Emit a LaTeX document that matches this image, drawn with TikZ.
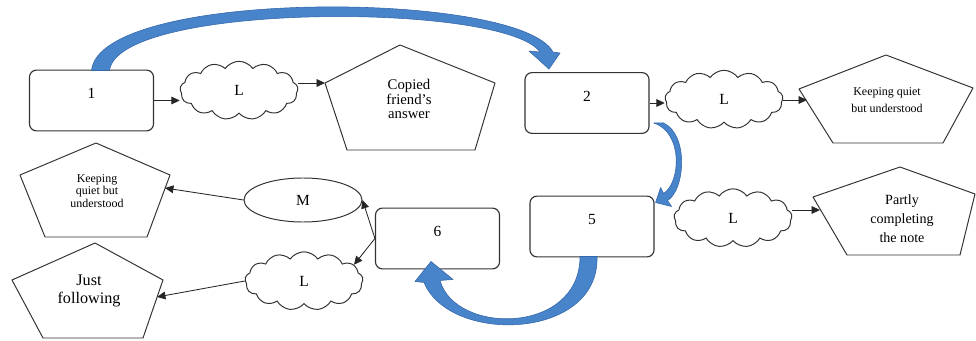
\documentclass[tikz,border=0pt]{standalone}
\usepackage{fontspec}
\setmainfont{Liberation Serif}
\usepackage{tikz}
\usetikzlibrary{shapes.symbols,shapes.geometric,arrows.meta,calc}

\definecolor{arcblue}{RGB}{72,132,202}
\definecolor{arcedge}{RGB}{52,102,170}

\tikzset{
    box/.style={rectangle, draw=black!80, rounded corners=5pt, line width=0.8pt,
        minimum width=3.1cm, minimum height=1.52cm, text depth=10pt,
        font=\fontsize{11}{13}\selectfont},
    puff/.style={cloud, draw=black!80, line width=0.7pt, cloud puffs=13,
        cloud puff arc=110, cloud ignores aspect, minimum width=2.95cm,
        minimum height=1.46cm, font=\fontsize{11}{13}\selectfont},
    oval/.style={ellipse, draw=black!80, line width=0.7pt, minimum width=2.95cm,
        minimum height=1.1cm, font=\fontsize{11}{13}\selectfont},
    penta/.style={draw=black!80, line width=0.7pt, line join=round},
    pentext/.style={align=center, inner sep=0pt},
    arr/.style={-{Triangle[length=6pt,width=5.5pt]}, line width=0.6pt, black!85},
    bluearc/.style={fill=arcblue, draw=arcedge, line width=0.4pt, line join=round}
}

\begin{document}
\begin{tikzpicture}[x=0.025cm, y=-0.025cm]
    \useasboundingbox (0,0) rectangle (976,341);

    % pentagons
    \draw[penta] (400,45) -- (495,83) -- (475,150) -- (347,150) -- (325,83) -- cycle;
    \draw[penta] (886,55) -- (973,88) -- (943,143) -- (833,143) -- (799,89) -- cycle;
    \draw[penta] (900,167) -- (975,194) -- (960,255) -- (847,255) -- (813,197) -- cycle;
    \draw[penta] (96,143) -- (170,175) -- (147,237) -- (45,237) -- (20,175) -- cycle;
    \draw[penta] (95,243) -- (163,280) -- (143,338) -- (43,338) -- (12,280) -- cycle;

    \node[pentext, font=\fontsize{10.5}{10.5}\selectfont] (p1) at (409,99) {Copied\\friend's\\answer};
    \node[pentext, font=\fontsize{8.5}{12}\selectfont] (p2) at (887,100) {Keeping quiet\\but understood};
    \node[pentext, font=\fontsize{10}{13.5}\selectfont] (p3) at (902,219) {Partly\\completing\\the note};
    \node[pentext, font=\fontsize{8.5}{9}\selectfont] (p4) at (97,191) {Keeping\\quiet but\\understood};
    \node[pentext, font=\fontsize{11.5}{13}\selectfont] (p5) at (89,291) {Just\\following};

    \coordinate (p1in) at (325,83);
    \coordinate (p2in) at (807,100);
    \coordinate (p3in) at (820,210);
    \coordinate (p4in) at (165,188);
    \coordinate (p5in) at (157,297);

    % boxes
    \node[box] (b1) at (91.5,100.5) {1};
    \node[box] (b2) at (587,103) {2};
    \node[box] (b5) at (592,226.5) {5};
    \node[box] (b6) at (437.5,238.5) {6};

    % clouds and oval
    \node[puff] (c1) at (239,90.5) {L};
    \node[puff] (c2) at (724,99.5) {L};
    \node[puff] (c3) at (733,218) {L};
    \node[puff] (c4) at (304,281) {L};
    \node[oval] (m) at (303,200) {M};

    % black arrows
    \draw[arr] (b1.east) -- (b1.east -| c1.west);
    \draw[arr] (c1.east |- p1in) -- (p1in);
    \draw[arr] (b2.east) -- (b2.east -| c2.west);
    \draw[arr] (c2.east |- p2in) -- (p2in);
    \draw[arr] (c3.east |- p3in) -- (p3in);
    \draw[arr] (m.west) -- (p4in);
    \draw[arr] (c4.west) -- (p5in);
    \draw[arr] (b6.west) -- (m.east);
    \draw[arr] (b6.west) -- (c4.18);

    % blue arcs
    \filldraw[bluearc] ($(b1.north)+(0,1)$) .. controls (100,-12) and (520,-10) .. ($(b2.north)+(-34,-20)$)
        -- ($(b2.north)+(-27,-19)$) -- ($(b2.north)+(-38,-3)$) -- ($(b2.north)+(-58,-21)$)
        -- ($(b2.north)+(-47,-20)$) .. controls (505,2) and (118,2) .. ($(b1.north)+(18,1)$) -- cycle;
    \filldraw[bluearc] ($(b2.south east)+(14,-11)$) .. controls (689,135) and (685,190) .. ($(b5.north east)+(13,5)$)
        -- ($(b5.north east)+(17,11)$) -- ($(b5.north east)+(1,7)$) -- ($(b5.north east)+(6,-8)$)
        -- ($(b5.north east)+(9,-2)$) .. controls (681,182) and (683,132) .. ($(b2.south east)+(4,-11)$) -- cycle;
    \filldraw[bluearc] ($(b5.south)+(5,-1)$) .. controls (600,340) and (450,345) .. ($(b6.south)+(-13.5,13)$)
        -- ($(b6.south)+(-22.5,12)$) -- ($(b6.south)+(-6.5,-8)$) -- ($(b6.south)+(15.5,10)$)
        -- ($(b6.south)+(2.5,11)$) .. controls (455,335) and (580,335) .. ($(b5.south)+(-12,-1)$) -- cycle;
\end{tikzpicture}
\end{document}
